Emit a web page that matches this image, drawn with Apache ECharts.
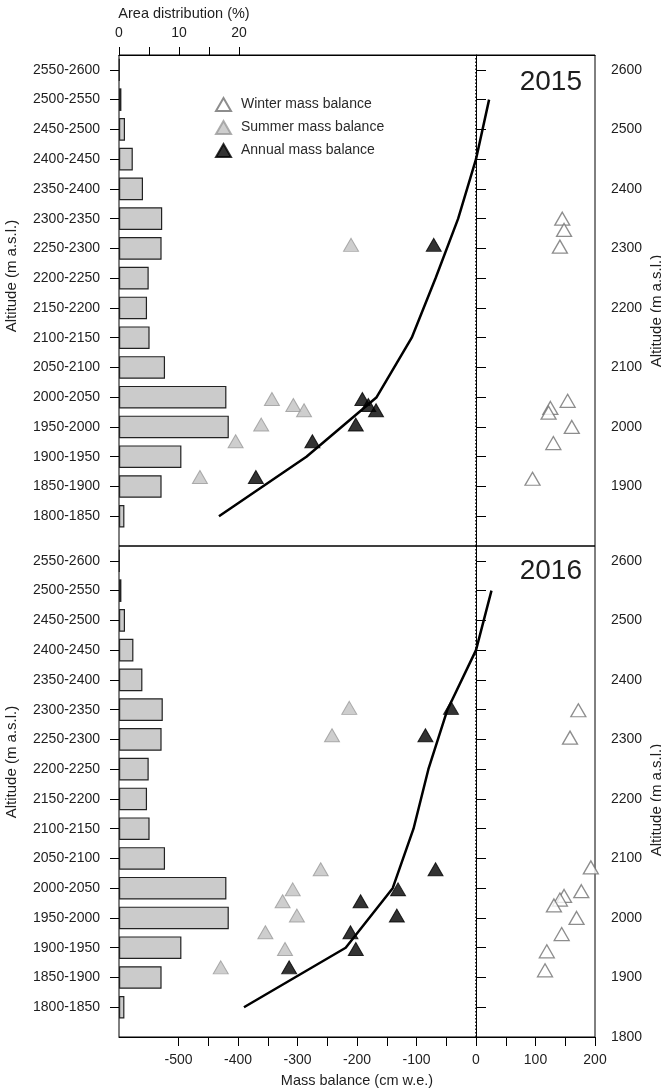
<!DOCTYPE html>
<html><head><meta charset="utf-8">
<script src="https://cdn.jsdelivr.net/npm/echarts@6/dist/echarts.min.js"></script>
<style>html,body{margin:0;padding:0;background:#fff}#c{width:661px;height:1089px}</style>
</head><body><div id="c"></div>
<script>
// ---------- data ----------
const categories = ['2550-2600','2500-2550','2450-2500','2400-2450','2350-2400','2300-2350','2250-2300','2200-2250','2150-2200','2100-2150','2050-2100','2000-2050','1950-2000','1900-1950','1850-1900','1800-1850'];
const areaPct2015 = [0.1, 0.4, 1.0, 2.3, 4.0, 7.2, 7.1, 4.95, 4.67, 5.1, 7.67, 17.9, 18.3, 10.4, 7.1, 0.9];
const areaPct2016 = [0.1, 0.4, 1.0, 2.4, 3.9, 7.3, 7.1, 4.95, 4.67, 5.1, 7.67, 17.9, 18.3, 10.4, 7.1, 0.9];

const winter2015Mb  = [145, 148, 141, 154, 125, 122, 161, 130, 95];
const winter2015Alt = [2350, 2331, 2303, 2044, 2032, 2024, 2000, 1973, 1913];
const summer2015Mb  = [-210, -343, -307, -289, -361, -404, -464];
const summer2015Alt = [2306, 2047, 2037, 2028, 2004, 1976, 1916];
const annual2015Mb  = [-71, -191, -181, -168, -202, -275, -370];
const annual2015Alt = [2306, 2047, 2037, 2028, 2004, 1976, 1916];
const profileAlt    = [1850, 1950, 2050, 2150, 2250, 2350, 2450, 2550];
const profile2015Mb = [-432, -285, -167, -108, -68, -30, 0, 22];

const winter2016Mb  = [172, 158, 193, 177, 148, 141, 131, 169, 144, 119, 116];
const winter2016Alt = [2349, 2303, 2085, 2045, 2037, 2031, 2021, 2000, 1973, 1944, 1912];
const summer2016Mb  = [-213, -242, -261, -308, -325, -301, -354, -321, -429];
const summer2016Alt = [2353, 2307, 2082, 2048, 2028, 2004, 1976, 1948, 1917];
const annual2016Mb  = [-42, -85, -68, -131, -194, -133, -211, -202, -314];
const annual2016Alt = [2353, 2307, 2082, 2048, 2028, 2004, 1976, 1948, 1917];
const profile2016Mb = [-390, -219, -140, -105, -80, -48, 0, 26];

const massTicks  = [-500,-450,-400,-350,-300,-250,-200,-150,-100,-50,0,50,100,150,200];
const massLabels = [-500,-400,-300,-200,-100,0,100,200];
const altTicks   = [1850,1900,1950,2000,2050,2100,2150,2200,2250,2300,2350,2400,2450,2500,2550,2600];
const altLabelsTop    = [1900,2000,2100,2200,2300,2400,2500,2600];
const altLabelsBottom = [1800,1900,2000,2100,2200,2300,2400,2500,2600];
const areaTicks  = [0,5,10,15,20];
const areaLabels = [0,10,20];

// ---------- helpers ----------
const FONT = "'Liberation Sans', Arial, Helvetica, sans-serif";
const TXT = '#1e1e1e';
const pairs = (xs, ys) => xs.map((x, i) => [x, ys[i]]);
const lbl = (extra) => Object.assign({color: TXT, fontSize: 14, fontFamily: FONT}, extra || {});
const plain = (v) => String(v);

const PANEL_TOP = [55, 546];
const PANEL_H = 491;
const BAR_H = PANEL_H * 800 / 825;

function altAxis(gridIndex, labels) {
  return {type: 'value', gridIndex, position: 'right', min: 1800, max: 2625,
    axisLine: {show: true, lineStyle: {color: '#000', width: 1}},
    axisTick: {show: true, inside: false, length: 10, customValues: altTicks, lineStyle: {color: '#000', width: 1}},
    axisLabel: lbl({show: true, margin: 16, customValues: labels, formatter: plain}),
    splitLine: {show: false}};
}
function catAxis(gridIndex) {
  return {type: 'category', gridIndex, data: categories, inverse: true, position: 'left',
    axisLine: {show: false},
    axisTick: {show: true, alignWithLabel: true, length: 9, lineStyle: {color: '#000', width: 1}},
    axisLabel: lbl({margin: 19, interval: 0}),
    splitLine: {show: false}};
}
const symW = [15, 13];
function scatter(name, xs, ys, gi, style) {
  return {type: 'scatter', name, xAxisIndex: gi, yAxisIndex: gi, data: pairs(xs, ys),
    symbol: 'triangle', symbolSize: symW, itemStyle: style, z: 5, silent: true};
}
const winterStyle = {color: '#ffffff', borderColor: '#707070', borderWidth: 1.3};
const summerStyle = {color: '#c2c2c2', borderColor: '#9a9a9a', borderWidth: 1};
const annualStyle = {color: '#000000', borderColor: '#000000', borderWidth: 1};

function profile(xs, gi) {
  return {type: 'line', name: 'profile' + gi, xAxisIndex: gi, yAxisIndex: gi,
    data: pairs(xs, profileAlt), showSymbol: false, symbol: 'none', silent: true, z: 4,
    lineStyle: {color: '#000', width: 2.5},
    markLine: {symbol: 'none', silent: true, label: {show: false},
      lineStyle: {type: [1.5, 2], color: '#000', width: 1.5}, data: [{xAxis: 0}]}};
}
function vtitle(x, y) {
  return {type: 'text', x, y, rotation: Math.PI / 2,
    style: {text: 'Altitude (m a.s.l.)', font: '15px ' + FONT, fill: TXT, textAlign: 'center', textVerticalAlign: 'middle'}};
}

const chart = echarts.init(document.getElementById('c'), null, {renderer: 'canvas'});
chart.setOption({
  backgroundColor: '#fff',
  animation: false,
  textStyle: {fontFamily: FONT},
  grid: [
    {left: 119, top: PANEL_TOP[0], width: 476, height: PANEL_H, show: true, borderColor: '#000', borderWidth: 1, backgroundColor: 'transparent'},
    {left: 119, top: PANEL_TOP[1], width: 476, height: PANEL_H, show: true, borderColor: '#000', borderWidth: 1, backgroundColor: 'transparent'},
    {left: 119, top: PANEL_TOP[0], width: 476, height: BAR_H},
    {left: 119, top: PANEL_TOP[1], width: 476, height: BAR_H}
  ],
  xAxis: [
    {type: 'value', gridIndex: 0, min: -600, max: 200, show: false},
    {type: 'value', gridIndex: 1, min: -600, max: 200, position: 'bottom',
      axisLine: {show: true, lineStyle: {color: '#000', width: 1}},
      axisTick: {show: true, length: 9, customValues: massTicks, lineStyle: {color: '#000'}},
      axisLabel: lbl({margin: 16, customValues: massLabels, formatter: plain}),
      splitLine: {show: false},
      name: 'Mass balance (cm w.e.)', nameLocation: 'middle', nameGap: 36,
      nameTextStyle: lbl({fontSize: 14.5})},
    {type: 'value', gridIndex: 2, min: 0, max: 476 / 6, position: 'top',
      axisLine: {show: true, lineStyle: {color: '#000', width: 1}},
      axisTick: {show: true, length: 8, customValues: areaTicks, lineStyle: {color: '#000'}},
      axisLabel: lbl({margin: 15, customValues: areaLabels, formatter: plain}),
      splitLine: {show: false}},
    {type: 'value', gridIndex: 3, min: 0, max: 476 / 6, show: false}
  ],
  yAxis: [altAxis(0, altLabelsTop), altAxis(1, altLabelsBottom), catAxis(2), catAxis(3)],
  legend: {
    data: ['Winter mass balance', 'Summer mass balance', 'Annual mass balance'],
    orient: 'vertical', left: 210, top: 92, itemWidth: 15, itemHeight: 13, itemGap: 8,
    symbolKeepAspect: false,
    textStyle: lbl({fontSize: 14, lineHeight: 13, padding: [0, 0, 0, 5], color: '#2a2a2a'}),
    selectedMode: false
  },
  graphic: [
    {type: 'text', x: 184, y: 14, style: {text: 'Area distribution (%)', font: '14.5px ' + FONT, fill: TXT, textAlign: 'center', textVerticalAlign: 'middle'}},
    {type: 'text', x: 582, y: 82, style: {text: '2015', font: '28px ' + FONT, fill: TXT, textAlign: 'right', textVerticalAlign: 'middle'}},
    {type: 'text', x: 582, y: 571, style: {text: '2016', font: '28px ' + FONT, fill: TXT, textAlign: 'right', textVerticalAlign: 'middle'}},
    vtitle(12, 276), vtitle(12, 762), vtitle(657, 311), vtitle(657, 800)
  ],
  series: [
    {type: 'bar', name: 'area2015', xAxisIndex: 2, yAxisIndex: 2, data: areaPct2015, barWidth: '76%', silent: true,
      itemStyle: {color: '#cbcbcb', borderColor: '#222', borderWidth: 1.2}},
    {type: 'bar', name: 'area2016', xAxisIndex: 3, yAxisIndex: 3, data: areaPct2016, barWidth: '76%', silent: true,
      itemStyle: {color: '#cbcbcb', borderColor: '#222', borderWidth: 1.2}},
    profile(profile2015Mb, 0),
    profile(profile2016Mb, 1),
    scatter('Winter mass balance', winter2015Mb, winter2015Alt, 0, winterStyle),
    scatter('Summer mass balance', summer2015Mb, summer2015Alt, 0, summerStyle),
    scatter('Annual mass balance', annual2015Mb, annual2015Alt, 0, annualStyle),
    scatter('Winter mass balance', winter2016Mb, winter2016Alt, 1, winterStyle),
    scatter('Summer mass balance', summer2016Mb, summer2016Alt, 1, summerStyle),
    scatter('Annual mass balance', annual2016Mb, annual2016Alt, 1, annualStyle)
  ]
});
</script></body></html>
